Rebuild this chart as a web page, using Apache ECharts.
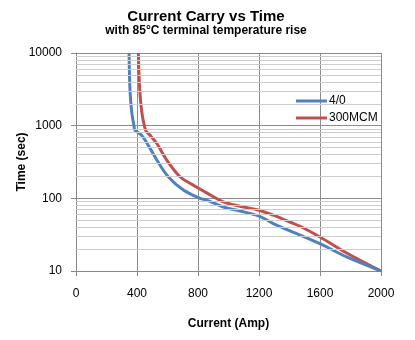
<!DOCTYPE html>
<html>
<head>
<meta charset="utf-8">
<script src="https://cdn.jsdelivr.net/npm/echarts@6/dist/echarts.min.js"></script>
<style>html,body{margin:0;padding:0;background:#fff;}#c{width:415px;height:340px;}</style>
</head>
<body>
<div id="c"></div>
<script>
// Data: [current (Amp), time (sec)]
const series40 = [[348,10000],[354,3100],[365,1560],[380,1000],[386,870],[430,740],[465,575],[530,337],[605,198],[704,130],[813,100],[857,94.5],[966,76],[1075,67],[1200,57],[1294,45],[1400,36],[1600,23.8],[1775,15.6],[2000,10]];
const series300 = [[409,10000],[418,3100],[431,1560],[448,1000],[460,840],[490,720],[529,573],[595,337],[682,198],[750,160],[857,119],[966,89.5],[1075,78],[1200,68.7],[1294,58.6],[1400,47.4],[1469,41.3],[1600,29.4],[1775,17.7],[2000,10]];
const seriesNames = ['4/0', '300MCM'];
const xTicks = [0, 400, 800, 1200, 1600, 2000];
const yTicks = [10, 100, 1000, 10000];
const minorY = [20,30,40,50,60,70,80,90,200,300,400,500,600,700,800,900,2000,3000,4000,5000,6000,7000,8000,9000];

const chart = echarts.init(document.getElementById('c'), null, {renderer: 'canvas'});
const font = 'Liberation Sans, Arial, sans-serif';
chart.setOption({
  backgroundColor: '#fff',
  animation: false,
  title: [
    {text: 'Current Carry vs Time', left: 201, top: 4, textAlign: 'center',
     textStyle: {fontFamily: font, fontSize: 15, fontWeight: 'bold', color: '#000'}},
    {text: 'with 85°C terminal temperature rise', left: 201, top: 20, textAlign: 'center',
     textStyle: {fontFamily: font, fontSize: 12, fontWeight: 'bold', color: '#000'}}
  ],
  legend: {
    orient: 'vertical', left: 291, top: 90, itemWidth: 31, itemHeight: 12, itemGap: 5,
    data: seriesNames, icon: 'path://M0,5 L31,5 L31,8 L0,8 Z',
    textStyle: {fontFamily: font, fontSize: 12, color: '#000', padding: [0,0,0,-3]}
  },
  grid: {left: 76, right: 34, top: 53, bottom: 69},
  xAxis: {
    type: 'value', min: 0, max: 2000, interval: 400,
    name: 'Current (Amp)', nameLocation: 'middle', nameGap: 47,
    nameTextStyle: {fontFamily: font, fontSize: 12, fontWeight: 'bold', color: '#000'},
    axisLine: {show: true, lineStyle: {color: '#888', width: 1}},
    axisTick: {show: true, length: 5, lineStyle: {color: '#888'}},
    axisLabel: {fontFamily: font, fontSize: 12, color: '#000', margin: 17,
      formatter: v => xTicks.includes(v) ? String(v) : ''},
    splitLine: {show: true, lineStyle: {color: '#8c8c8c', width: 1}}
  },
  yAxis: {
    type: 'log', logBase: 10, min: 10, max: 10000,
    name: 'Time (sec)', nameLocation: 'middle', nameGap: 48, nameMoveOverlap: false,
    nameTextStyle: {fontFamily: font, fontSize: 12, fontWeight: 'bold', color: '#000'},
    axisLine: {show: true, lineStyle: {color: '#888', width: 1}},
    axisTick: {show: true, length: 5, lineStyle: {color: '#888'}},
    axisLabel: {fontFamily: font, fontSize: 12, color: '#000', margin: 14,
      formatter: v => yTicks.includes(Math.round(v)) ? String(Math.round(v)) : ''},
    splitLine: {show: true, lineStyle: {color: '#8c8c8c', width: 1}},
    minorTick: {show: false}, minorSplitLine: {show: false}
  },
  series: [
    {
      name: 'grid-minor', type: 'line', data: [], silent: true, z: 1,
      markLine: {
        silent: true, symbol: ['none','none'], label: {show: false},
        lineStyle: {color: '#cdcdcd', width: 1, type: 'solid'},
        data: minorY.map(v => ({yAxis: v}))
      }
    },
    {
      name: seriesNames[0], type: 'line', data: series40, smooth: 0.35, symbol: 'none', z: 3,
      lineStyle: {color: '#4F81BD', width: 3}, itemStyle: {color: '#4F81BD'}
    },
    {
      name: seriesNames[1], type: 'line', data: series300, smooth: 0.35, symbol: 'none', z: 2,
      lineStyle: {color: '#C0504D', width: 3}, itemStyle: {color: '#C0504D'}
    }
  ]
});
</script>
</body>
</html>
